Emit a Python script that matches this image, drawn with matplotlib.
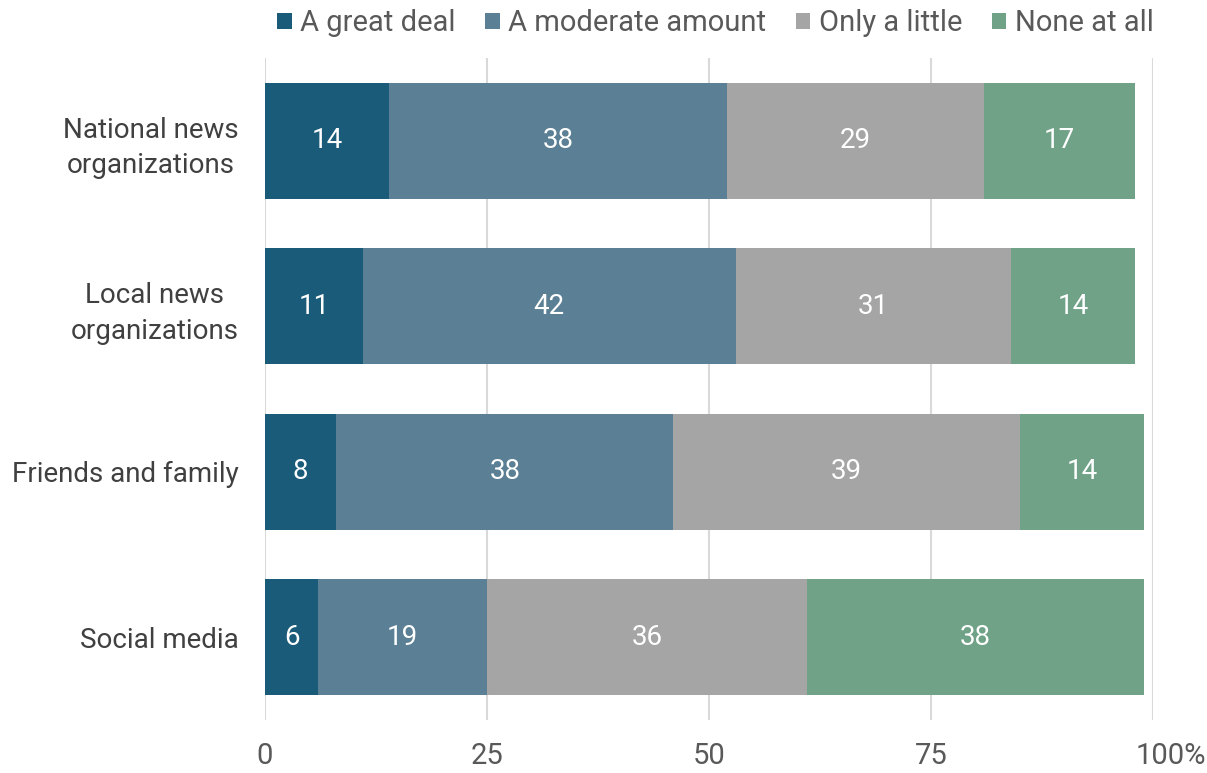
import numpy as np
import matplotlib.pyplot as plt
import matplotlib.transforms as mtransforms

plt.rcParams['font.family'] = ['Roboto', 'DejaVu Sans']

categories = ["National news\norganizations", "Local news\norganizations", "Friends and family", "Social media"]
series = ["A great deal", "A moderate amount", "Only a little", "None at all"]
great = [14, 11, 8, 6]
moderate = [38, 42, 38, 19]
little = [29, 31, 39, 36]
none_ = [17, 14, 14, 38]
colors = ["#1a5b7a", "#5b7f94", "#a5a5a5", "#6fa287"]
xticks = [0, 25, 50, 75, 100]
xticklabels = ["0", "25", "50", "75", "100%"]

fig = plt.figure(figsize=(12.07, 7.73), dpi=100)
ax = fig.add_axes([265 / 1207, 1 - 720 / 773, (1153 - 265) / 1207, (720 - 58) / 773])

y = np.arange(len(categories))
left = np.zeros(len(categories))
for vals, name, c in zip([great, moderate, little, none_], series, colors):
    vals = np.array(vals)
    ax.barh(y, vals, left=left, height=0.7, color=c, label=name, zorder=2)
    for yi, l, v in zip(y, left, vals):
        ax.text(l + v / 2, yi, str(v), ha="center", va="center", color="white", fontsize=20, zorder=3)
    left += vals

ax.set_xlim(0, 100)
ax.set_ylim(3.5, -0.5)
ax.set_yticks(y)
ax.set_yticklabels(categories, fontsize=20, color="#404040", multialignment="center", linespacing=1.4)
ax.set_xticks(xticks)
ax.set_xticklabels(xticklabels, fontsize=21, color="#595959")
ax.tick_params(axis="both", length=0)
ax.tick_params(axis="y", pad=19)
ax.tick_params(axis="x", pad=16)
ax.grid(axis="x", color="#d9d9d9", linewidth=1.5, zorder=0)
for s in ax.spines.values():
    s.set_visible(False)

last = ax.get_xticklabels()[-1]
last.set_transform(last.get_transform() + mtransforms.ScaledTranslation(0.18, 0, fig.dpi_scale_trans))

fig.legend(loc="upper right", bbox_to_anchor=(1180 / 1207, 1.022), ncol=4, frameon=False,
           fontsize=21, handlelength=0.5, handleheight=0.5, handletextpad=0.3, columnspacing=1.0,
           labelcolor="#595959")

fig.savefig("out.png", dpi=100)
